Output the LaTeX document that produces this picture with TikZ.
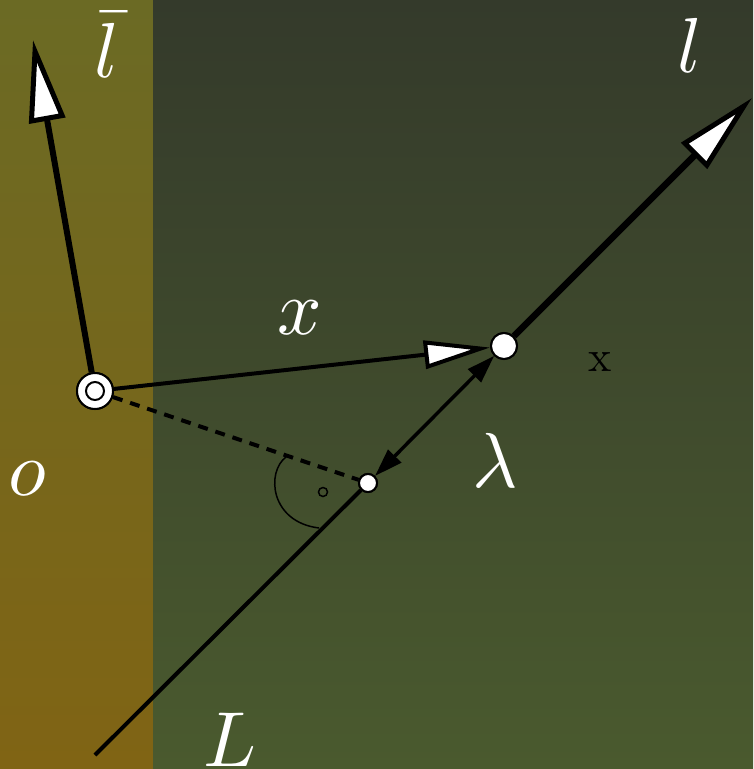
\documentclass[tikz,border=0pt]{standalone}
\usepackage{graphicx}
\usetikzlibrary{arrows.meta}
\definecolor{lefttop}{HTML}{6B6A24}
\definecolor{leftbot}{HTML}{806414}
\definecolor{righttop}{HTML}{343A2B}
\definecolor{rightbot}{HTML}{4A5A2E}
\newcommand{\bigsym}[1]{\scalebox{7.8}{$#1$}}
\tikzset{
  bigopen/.tip={Triangle[length=82pt,width=36pt,fill=white,line width=5pt]},
  midopen/.tip={Triangle[length=66pt,width=28pt,fill=white,line width=4pt]},
  smallhead/.tip={Triangle[length=28pt,width=18pt]},
  ptdot/.style={circle,draw=black,fill=white,line width=2pt,inner sep=0pt},
  biglabel/.style={text=white,inner sep=0pt},
}
\begin{document}
\begin{tikzpicture}[x=1pt,y=-1pt]
\useasboundingbox (0,0) rectangle (753,769);
\shade[top color=lefttop,bottom color=leftbot] (0,0) rectangle (153,769);
\shade[top color=righttop,bottom color=rightbot] (153,0) rectangle (753,769);

\node[ptdot,minimum size=36pt] (o) at (95,391) {};
\node[ptdot,minimum size=26pt] (P) at (504,346) {};
\node[ptdot,minimum size=18pt] (F) at (368,483) {};
\node[circle,draw=black,line width=1.5pt,minimum size=9pt,inner sep=0pt] (dot) at (323,492) {};

\coordinate (lbartip) at (33,40);
\coordinate (lend) at (752,98);
\coordinate (Lstart) at (95,755);
\coordinate (arcA) at (286,457);
\coordinate (arcB) at (319,528);

% right-angle arc
\draw[line width=1.5pt] (arcA) .. controls (266,472) and (270,522) .. (arcB);

% dashed perpendicular
\draw[line width=4pt,dash pattern=on 10pt off 8pt] (o) -- (F);

% line L
\draw[line width=4pt] (Lstart) -- (F);
\draw[line width=3.5pt,{smallhead}-{smallhead}] (F) -- (P);
\draw[line width=6.5pt,-{bigopen}] (P) -- (lend);

% vectors
\draw[line width=6pt,-{bigopen}] (o) -- (lbartip);
\draw[line width=4pt,-{midopen}] (o) -- (P);

% points on top
\node[ptdot,minimum size=36pt] at (o) {};
\node[circle,draw=black,line width=2pt,fill=white,minimum size=18pt,inner sep=0pt] (oin) at (o) {};
\node[ptdot,minimum size=26pt] at (P) {};
\node[ptdot,minimum size=18pt] at (F) {};

% labels
\node[biglabel] (lbarlab) at (107,45) {\bigsym{\bar{l}}};
\node[biglabel] (llab) at (690,45) {\bigsym{l}};
\node[biglabel] (xlab) at (300,318) {\bigsym{x}};
\node[biglabel] (lamlab) at (495,460) {\bigsym{\lambda}};
\node[biglabel] (olab) at (27,479) {\bigsym{o}};
\node[biglabel] (Llab) at (230,740) {\bigsym{L}};
\node[text=black,inner sep=0pt] (Xlab) at (600,362) {\scalebox{4.4}{x}};
\end{tikzpicture}
\end{document}
